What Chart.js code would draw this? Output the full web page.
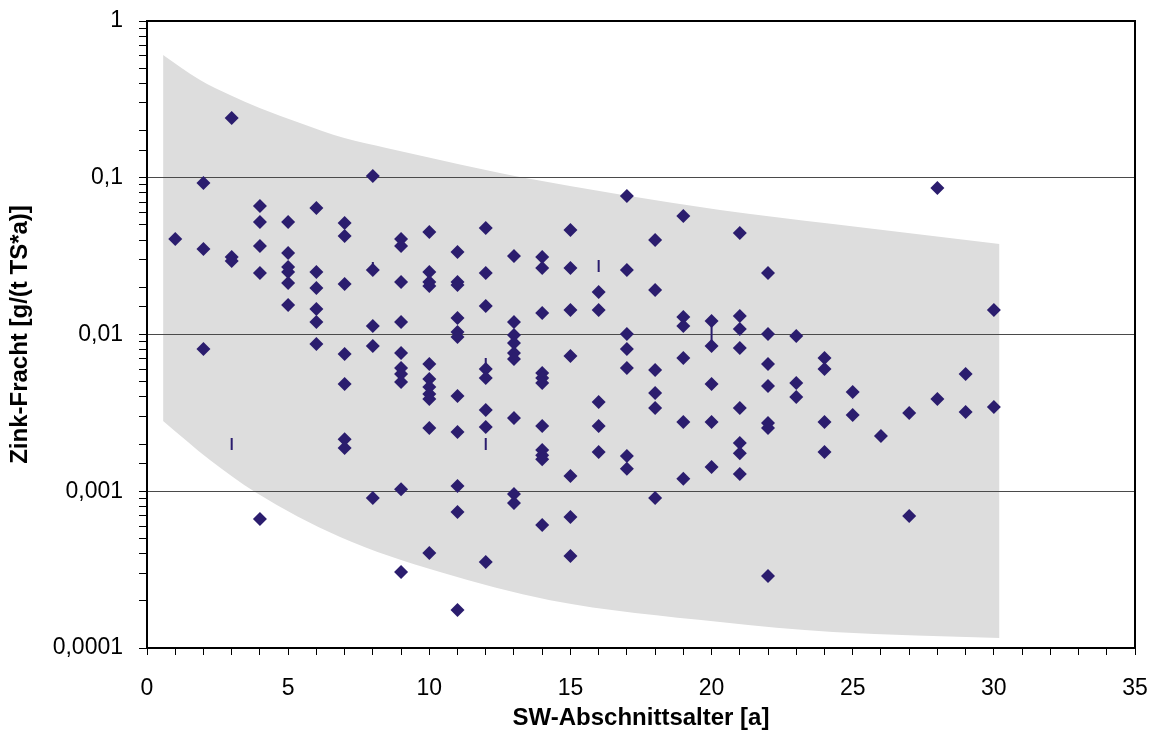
<!DOCTYPE html>
<html>
<head>
<meta charset="utf-8">
<script src="https://cdn.jsdelivr.net/npm/chart.js@4/dist/chart.umd.min.js"></script>
<style>
  body { margin: 0; background: #fff; }
  #wrap { width: 1157px; height: 740px; }
</style>
</head>
<body>
<div id="wrap"><canvas id="chart"></canvas></div>
<script>
// Alter der Abschnitte (x) und gemessene Zink-Fracht je Alter (y)
const alterJahre = [1, 2, 3, 4, 5, 6, 7, 8, 9, 10, 11, 12, 13, 14, 15, 16, 17, 18, 19, 20, 21, 22, 23, 24, 25, 26, 27, 28, 29, 30];
const frachtWerte = [
    [0.0407],
    [0.0926, 0.0351, 0.00808],
    [0.2405, 0.0312, 0.0294],
    [0.066, 0.0522, 0.0367, 0.0247, 0.000665],
    [0.0522, 0.0331, 0.027, 0.025, 0.0213, 0.0154],
    [0.0641, 0.025, 0.0198, 0.01454, 0.012, 0.0087],
    [0.0514, 0.0425, 0.021, 0.0075, 0.00483, 0.00215, 0.00189],
    [0.1026, 0.0258, 0.01133, 0.00845, 0.000906],
    [0.0407, 0.0367, 0.0216, 0.012, 0.00762, 0.00611, 0.0056, 0.00498, 0.00103, 0.000305],
    [0.0451, 0.025, 0.0216, 0.0204, 0.00648, 0.0052, 0.00462, 0.00417, 0.00388, 0.00253, 0.000404],
    [0.0336, 0.0216, 0.0207, 0.01274, 0.01037, 0.00964, 0.00405, 0.00239, 0.00108, 0.000738, 0.000175],
    [0.0478, 0.0247, 0.0152, 0.00602, 0.00528, 0.0033, 0.00257, 0.000354],
    [0.0317, 0.012, 0.00993, 0.00883, 0.00762, 0.00698, 0.00293, 0.00096, 0.000842],
    [0.0312, 0.0266, 0.01372, 0.00568, 0.00528, 0.0049, 0.00261, 0.00183, 0.0017, 0.0016, 0.000609],
    [0.0464, 0.0266, 0.01433, 0.00729, 0.00125, 0.000685, 0.000386],
    [0.0187, 0.01433, 0.00371, 0.00261, 0.00178],
    [0.0765, 0.0258, 0.01007, 0.00808, 0.00611, 0.00168, 0.00139],
    [0.0401, 0.0192, 0.00594, 0.00423, 0.0034, 0.000906],
    [0.057, 0.01293, 0.01133, 0.00708, 0.00277, 0.0012],
    [0.0122, 0.00845, 0.00483, 0.00277, 0.00143],
    [0.0444, 0.01312, 0.01084, 0.0082, 0.0034, 0.00203, 0.00175, 0.00129],
    [0.0247, 0.01007, 0.00648, 0.00469, 0.00273, 0.00253, 0.000288],
    [0.00978, 0.0049, 0.00399],
    [0.00708, 0.00602, 0.00277, 0.00178],
    [0.0043, 0.00307],
    [0.00225],
    [0.00316, 0.000695],
    [0.086, 0.00388],
    [0.0056, 0.0032],
    [0.01433, 0.00345]
];

// kleine senkrechte Striche (Spannweiten)
const strichAlter = [3, 8, 12, 12, 16, 20];
const strichOben = [0.00219, 0.029, 0.00708, 0.00219, 0.0299, 0.0122];
const strichUnten = [0.00183, 0.0258, 0.00639, 0.00183, 0.025, 0.00845];

// grauer Streubereich
const bandObenX = [0.57, 1.88, 2.94, 3.99, 5.42, 6.99, 8.48, 10.38, 13.21, 20.3, 24.3, 30.2];
const bandObenY = [0.607, 0.42, 0.337, 0.279, 0.2235, 0.179, 0.155, 0.1298, 0.101, 0.0623, 0.0507, 0.0378];
const bandUntenX = [0.57, 2.23, 3.83, 6.84, 10.38, 14.28, 20.3, 24.3, 30.2];
const bandUntenY = [0.002806, 0.001583, 0.000989, 0.000511, 0.000305, 0.000202, 0.0001465, 0.0001265, 0.0001158];

const punktFarbe = '#2b1d6e';
const schrift = 'Arial, "Liberation Sans", sans-serif';

// Punkte aufbauen
const punkte = [];
alterJahre.forEach((a, i) => {
    frachtWerte[i].forEach(v => punkte.push({ x: a, y: v }));
});

const striche = [];
for (let i = 0; i < strichAlter.length; i++) {
    striche.push({ x: strichAlter[i], y: strichOben[i] });
    striche.push({ x: strichAlter[i], y: strichUnten[i] });
    striche.push({ x: strichAlter[i], y: null });
}

const bandOben = bandObenX.map((x, i) => ({ x: x, y: bandObenY[i] }));
const bandUnten = bandUntenX.map((x, i) => ({ x: x, y: bandUntenY[i] }));

function istDekade(v) {
    const l = Math.log10(v);
    return Math.abs(l - Math.round(l)) < 1e-6;
}

// Rahmen um die Zeichenfläche
const rahmen = {
    id: 'rahmen',
    afterDraw(chart) {
        const { ctx, chartArea: a } = chart;
        ctx.save();
        ctx.strokeStyle = '#000';
        ctx.lineWidth = 2;
        ctx.strokeRect(a.left, a.top, a.right - a.left, a.bottom - a.top);
        ctx.restore();
    }
};

const ctx = document.getElementById('chart').getContext('2d');
new Chart(ctx, {
    type: 'scatter',
    data: {
        datasets: [
            {
                label: 'Zink-Fracht',
                data: punkte,
                pointStyle: 'rectRot',
                pointRadius: 7,
                pointBackgroundColor: punktFarbe,
                pointBorderColor: punktFarbe,
                pointBorderWidth: 0
            },
            {
                type: 'line',
                label: 'Spannweite',
                data: striche,
                borderColor: punktFarbe,
                borderWidth: 2,
                pointRadius: 0,
                spanGaps: false,
                fill: false
            },
            {
                type: 'line',
                label: 'Bereich oben',
                data: bandOben,
                borderWidth: 0,
                borderColor: 'rgba(0,0,0,0)',
                backgroundColor: '#dddddd',
                pointRadius: 0,
                cubicInterpolationMode: 'monotone',
                fill: '+1'
            },
            {
                type: 'line',
                label: 'Bereich unten',
                data: bandUnten,
                borderWidth: 0,
                borderColor: 'rgba(0,0,0,0)',
                pointRadius: 0,
                cubicInterpolationMode: 'monotone',
                fill: false
            }
        ]
    },
    options: {
        responsive: true,
        maintainAspectRatio: false,
        animation: false,
        layout: { padding: { left: 6, top: 21, right: 22, bottom: 7 } },
        plugins: {
            legend: { display: false },
            tooltip: { enabled: false },
            filler: { drawTime: 'beforeDraw' }
        },
        scales: {
            x: {
                type: 'linear',
                min: 0,
                max: 35,
                border: { display: false },
                grid: { drawOnChartArea: false, tickLength: 7, tickColor: '#000', lineWidth: 1 },
                ticks: {
                    stepSize: 1,
                    autoSkip: false,
                    maxRotation: 0,
                    padding: 20,
                    color: '#000',
                    font: { family: schrift, size: 23 },
                    callback: v => (v % 5 === 0 ? String(v) : '')
                },
                title: {
                    display: true,
                    text: 'SW-Abschnittsalter [a]',
                    color: '#000',
                    font: { family: schrift, size: 24, weight: 'bold' },
                    padding: { top: 4, bottom: 0 }
                },
                afterFit: s => {
                    s.height = 85;
                    s.paddingLeft = 0;
                    s.paddingRight = 0;
                }
            },
            y: {
                type: 'logarithmic',
                min: 0.0001,
                max: 1,
                border: { display: false },
                grid: {
                    tickLength: 8,
                    tickColor: '#000',
                    color: c => (c.tick && istDekade(c.tick.value) ? '#4a4a4a' : 'rgba(0,0,0,0)'),
                    lineWidth: 1
                },
                ticks: {
                    autoSkip: false,
                    padding: 16,
                    color: '#000',
                    font: { family: schrift, size: 23 },
                    callback: v => (istDekade(v) ? String(Number(v.toPrecision(3))).replace('.', ',') : '')
                },
                title: {
                    display: true,
                    text: 'Zink-Fracht [g/(t TS*a)]',
                    color: '#000',
                    font: { family: schrift, size: 24, weight: 'bold' },
                    padding: { top: 0, bottom: 0 }
                },
                afterFit: s => {
                    s.width = 141;
                    s.paddingTop = 0;
                    s.paddingBottom = 0;
                }
            }
        }
    },
    plugins: [rahmen]
});
</script>
</body>
</html>
